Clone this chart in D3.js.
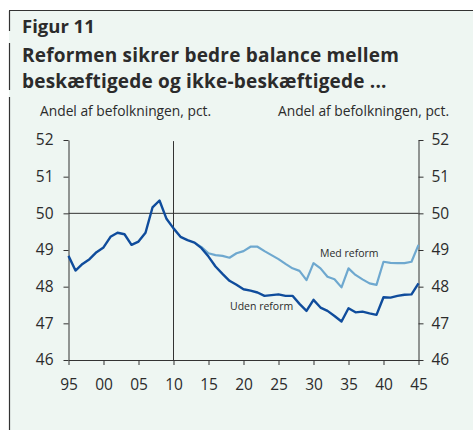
<!DOCTYPE html>
<html>
<head>
<meta charset="utf-8">
<script src="https://cdn.jsdelivr.net/npm/d3@7"></script>
<style>
  body { margin: 0; background: #fff; }
  text { font-family: "Open Sans", "Noto Sans", sans-serif; fill: #2b2b2b; }
</style>
</head>
<body>
<div id="chart"></div>
<script>
// Data
const years = d3.range(1995, 2046)
const udenReform = [
  48.84, 48.44, 48.62, 48.75, 48.94, 49.07, 49.36, 49.47, 49.43, 49.14,
  49.23, 49.47, 50.16, 50.35, 49.85, 49.59, 49.36, 49.27, 49.2, 49.05,
  48.82, 48.55, 48.35, 48.16, 48.05, 47.93, 47.89, 47.84, 47.75, 47.77,
  47.79, 47.75, 47.75, 47.53, 47.34, 47.64, 47.43, 47.34, 47.2, 47.05,
  47.41, 47.3, 47.32, 47.27, 47.23, 47.71, 47.7, 47.75, 47.78, 47.79,
  48.09
]
const medYears = d3.range(2013, 2046)
const medReform = [
  49.2, 49.08, 48.91, 48.86, 48.84, 48.79, 48.91, 48.97, 49.09, 49.09,
  48.97, 48.86, 48.75, 48.62, 48.5, 48.43, 48.18, 48.64, 48.5, 48.27,
  48.2, 47.98, 48.5, 48.32, 48.2, 48.09, 48.05, 48.68, 48.65, 48.64,
  48.64, 48.68, 49.14
]
const xTicks = d3.range(1995, 2046, 5)
const yTicks = [46, 47, 48, 49, 50, 51, 52]
const reformYear = 2010

const dims = { width: 473, height: 430, left: 68.5, right: 418.5, top: 140, bottom: 360 }

const svg = d3.select('#chart')
  .append('svg')
  .attr('width', dims.width)
  .attr('height', dims.height)

// Panel background and frame
svg.append('rect')
  .attr('x', 9).attr('y', 10)
  .attr('width', dims.width - 9).attr('height', dims.height - 10)
  .attr('fill', '#eef6f2')
svg.append('line')
  .attr('x1', 9).attr('x2', dims.width).attr('y1', 10.5).attr('y2', 10.5)
  .attr('stroke', '#333').attr('stroke-width', 1.2)
const borderSegs = [[11, 31], [43, 90], [97, 430]]
svg.selectAll('.border')
  .data(borderSegs)
  .join('line')
  .attr('x1', 9.5).attr('x2', 9.5)
  .attr('y1', d => d[0]).attr('y2', d => d[1])
  .attr('stroke', '#333').attr('stroke-width', 1.2)

// Titles
svg.append('text').attr('x', 22).attr('y', 33)
  .style('font-weight', 700).style('font-size', '18.5px')
  .text('Figur 11')
svg.append('text').attr('x', 22).attr('y', 62)
  .style('font-weight', 700).style('font-size', '19px')
  .style('letter-spacing', '0.2px')
  .text('Reformen sikrer bedre balance mellem')
svg.append('text').attr('x', 22).attr('y', 88)
  .style('font-weight', 700).style('font-size', '19px')
  .style('letter-spacing', '0.2px')
  .text('beskæftigede og ikke-beskæftigede ...')
svg.append('text').attr('x', 40).attr('y', 116)
  .style('font-size', '13.8px')
  .text('Andel af befolkningen, pct.')
svg.append('text').attr('x', 449).attr('y', 116)
  .attr('text-anchor', 'end')
  .style('font-size', '13.8px')
  .text('Andel af befolkningen, pct.')

// Scales
const xScale = d3.scaleLinear()
  .domain([1995, 2045])
  .range([dims.left, dims.right])
const yScale = d3.scaleLinear()
  .domain([46, 52])
  .range([dims.bottom, dims.top])

// Reference lines
svg.append('line')
  .attr('x1', dims.left).attr('x2', dims.right)
  .attr('y1', yScale(50)).attr('y2', yScale(50))
  .attr('stroke', '#333').attr('stroke-width', 1)
svg.append('line')
  .attr('x1', xScale(reformYear)).attr('x2', xScale(reformYear))
  .attr('y1', yScale(51.97)).attr('y2', dims.bottom)
  .attr('stroke', '#333').attr('stroke-width', 1)

// Axes
const styleAxis = g => {
  g.selectAll('path, line').attr('stroke', '#333')
  g.selectAll('text').style('font-size', '15.5px').attr('fill', '#2b2b2b')
    .style('font-family', '"Open Sans", sans-serif')
}
svg.append('g')
  .attr('transform', `translate(${dims.left},0)`)
  .call(d3.axisLeft(yScale).tickValues(yTicks).tickFormat(d3.format('d'))
    .tickSize(5).tickSizeOuter(0).tickPadding(10))
  .call(styleAxis)
svg.append('g')
  .attr('transform', `translate(${dims.right},0)`)
  .call(d3.axisRight(yScale).tickValues(yTicks).tickFormat(d3.format('d'))
    .tickSize(5).tickSizeOuter(0).tickPadding(8))
  .call(styleAxis)
svg.append('g')
  .attr('transform', `translate(0,${dims.bottom})`)
  .call(d3.axisBottom(xScale).tickValues(xTicks)
    .tickFormat(d => String(d % 100).padStart(2, '0'))
    .tickSize(5).tickSizeOuter(0).tickPadding(14))
  .call(styleAxis)
svg.selectAll('.domain').attr('stroke-width', 1)

// Lines
const line = d3.line()
  .x(d => xScale(d[0]))
  .y(d => yScale(d[1]))

svg.append('path')
  .datum(d3.zip(medYears, medReform))
  .attr('d', line)
  .attr('fill', 'none')
  .attr('stroke', '#6ea8cf')
  .attr('stroke-width', 2.2)
  .attr('stroke-linejoin', 'round')

svg.append('path')
  .datum(d3.zip(years, udenReform))
  .attr('d', line)
  .attr('fill', 'none')
  .attr('stroke', '#0f4c9c')
  .attr('stroke-width', 2.4)
  .attr('stroke-linejoin', 'round')

// Series labels
svg.append('text').attr('x', 320).attr('y', 257)
  .style('font-size', '10.5px').attr('fill', '#333')
  .text('Med reform')
svg.append('text').attr('x', 230).attr('y', 310)
  .style('font-size', '10.5px').attr('fill', '#333')
  .text('Uden reform')
</script>
</body>
</html>
